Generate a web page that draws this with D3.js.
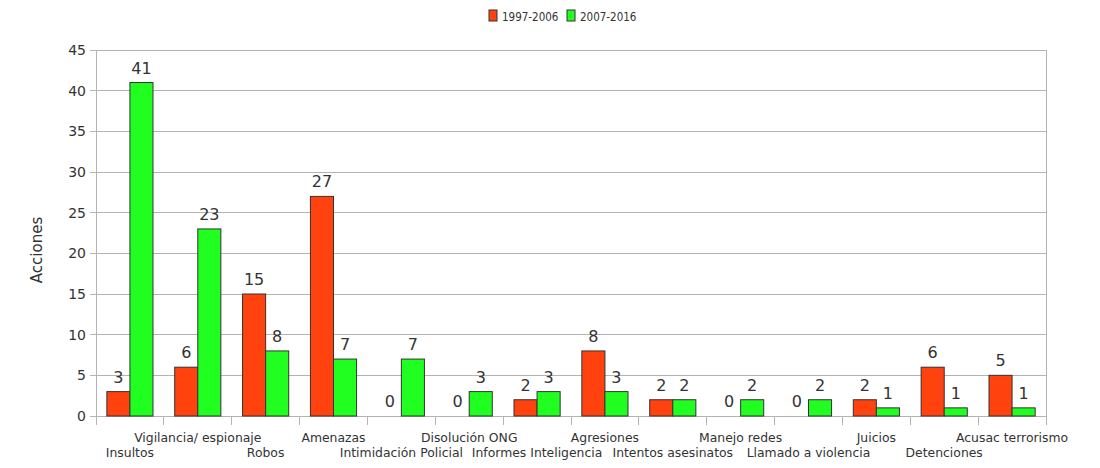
<!DOCTYPE html>
<html><head><meta charset="utf-8">
<script src="https://cdn.jsdelivr.net/npm/d3@7"></script>
<style>body{margin:0;background:#fff}text{font-family:"DejaVu Sans",sans-serif;fill:#333}</style>
</head><body>
<svg id="c" width="1100" height="468"></svg>
<script>
const categories = ["Insultos","Vigilancia/ espionaje","Robos","Amenazas","Intimidación Policial","Disolución ONG","Informes Inteligencia","Agresiones","Intentos asesinatos","Manejo redes","Llamado a violencia","Juicios","Detenciones","Acusac terrorismo"];
const series1 = [3,6,15,27,0,0,2,8,2,0,0,2,6,5];
const series2 = [41,23,8,7,7,3,3,3,2,2,2,1,1,1];
const seriesNames = ["1997-2006","2007-2016"];
const yTicks = [0,5,10,15,20,25,30,35,40,45];
const colors = ["#ff420e","#21ff21"];

const svg = d3.select("#c");
const L=96,R=1046,T=50,B=416;
const x = d3.scaleBand().domain(categories).range([L,R]).paddingInner(0.32).paddingOuter(0.16);
const xs = d3.scaleBand().domain([0,1]).range([0,x.bandwidth()]);
const y = d3.scaleLinear().domain([0,45]).range([B,T]);

// grid
svg.append("g").selectAll("line").data(yTicks).join("line")
  .attr("x1",L-6).attr("x2",R).attr("y1",d=>y(d)).attr("y2",d=>y(d))
  .attr("stroke","#b3b3b3").attr("stroke-width",1).attr("shape-rendering","crispEdges");
// y labels
svg.append("g").selectAll("text").data(yTicks).join("text")
  .attr("x",L-10).attr("y",d=>y(d)).attr("dy","0.35em").attr("text-anchor","end")
  .attr("font-size",14).text(d=>d);
// axes frame
svg.append("line").attr("x1",L).attr("x2",L).attr("y1",T).attr("y2",B+9).attr("stroke","#b3b3b3").attr("shape-rendering","crispEdges");
svg.append("line").attr("x1",R).attr("x2",R).attr("y1",T).attr("y2",B+9).attr("stroke","#b3b3b3").attr("shape-rendering","crispEdges");
const bounds = d3.range(categories.length+1).map(i=>L+i*(R-L)/categories.length);
svg.append("g").selectAll("line").data(bounds).join("line")
  .attr("x1",d=>d).attr("x2",d=>d).attr("y1",B).attr("y2",B+9)
  .attr("stroke","#b3b3b3").attr("shape-rendering","crispEdges");

// bars
const data = categories.map((c,i)=>({c, v:[series1[i],series2[i]]}));
const g = svg.append("g").selectAll("g").data(data).join("g").attr("transform",d=>`translate(${x(d.c)},0)`);
g.selectAll("rect").data(d=>d.v.map((v,k)=>({v,k}))).join("rect")
  .attr("x",d=>xs(d.k)).attr("width",xs.bandwidth()).attr("y",d=>y(d.v)).attr("height",d=>B-y(d.v))
  .attr("fill",d=>colors[d.k]).attr("stroke",d=>d.v>0?"#333":"none").attr("stroke-width",1);
g.selectAll("text").data(d=>d.v.map((v,k)=>({v,k}))).join("text")
  .attr("x",d=>xs(d.k)+xs.bandwidth()/2).attr("y",d=>y(d.v)-9).attr("text-anchor","middle")
  .attr("font-size",16).text(d=>d.v);

// category labels
svg.append("g").selectAll("text").data(categories).join("text")
  .attr("x",d=>x(d)+x.bandwidth()/2).attr("y",(d,i)=>i%2===0?457:442).attr("text-anchor","middle")
  .attr("font-size",12.4).text(d=>d);

// y title
svg.append("text").attr("transform","translate(42,250) rotate(-90)").attr("text-anchor","middle")
  .attr("font-size",15).text("Acciones");

// legend
const lg = svg.append("g");
const lx=[489,567];
seriesNames.forEach((n,k)=>{
  lg.append("rect").attr("x",lx[k]).attr("y",10).attr("width",8).attr("height",11).attr("fill",colors[k]).attr("stroke","#333");
  lg.append("text").attr("x",lx[k]+13).attr("y",20.5).attr("font-size",11.5)
    .style("font-family","'DejaVu Sans Condensed','DejaVu Sans',sans-serif").style("font-stretch","condensed").text(n);
});
</script>
</body></html>
